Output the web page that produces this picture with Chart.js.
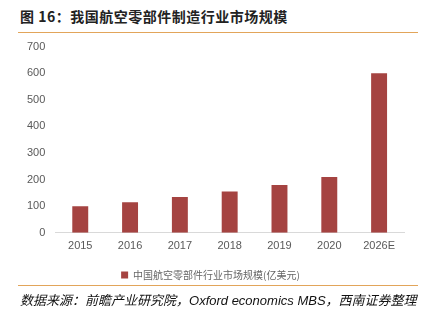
<!DOCTYPE html>
<html>
<head>
<meta charset="utf-8">
<script src="https://cdn.jsdelivr.net/npm/chart.js@4/dist/chart.umd.min.js"></script>
<style>
  html, body { margin: 0; padding: 0; background: #fff; }
  body { width: 426px; height: 324px; position: relative; overflow: hidden; font-family: "Noto Sans CJK SC", "Liberation Sans", sans-serif; }
  #title { position: absolute; left: 20px; top: 6px; font-size: 14px; font-weight: bold; color: #222; letter-spacing: 0.5px; }
  .rule { position: absolute; left: 18px; width: 400px; height: 1px; background: #E2A55A; }
  #wrap { position: absolute; left: 0; top: 30px; width: 426px; height: 260px; }
  #source { position: absolute; left: 20px; top: 290px; font-size: 13px; font-style: italic; color: #111; white-space: nowrap; }
  #source .en { font-family: "Liberation Sans", sans-serif; }
</style>
</head>
<body>
<div id="title">图 16：我国航空零部件制造行业市场规模</div>
<div class="rule" style="top:32px"></div>
<div id="wrap"><canvas id="chart"></canvas></div>
<div class="rule" style="top:285px"></div>
<div id="source">数据来源：前瞻产业研究院，<span class="en">Oxford economics MBS</span>，西南证券整理</div>
<script>
const categories = ['2015', '2016', '2017', '2018', '2019', '2020', '2026E'];
const marketSize = [100, 115, 135, 155, 180, 210, 600];
const yTicks = [0, 100, 200, 300, 400, 500, 600, 700];
const seriesName = '中国航空零部件行业市场规模(亿美元)';

const ctx = document.getElementById('chart').getContext('2d');
new Chart(ctx, {
    type: 'bar',
    data: {
        labels: categories,
        datasets: [{
            label: seriesName,
            data: marketSize,
            backgroundColor: '#A54341',
            borderWidth: 0,
            categoryPercentage: 0.8,
            barPercentage: 0.4
        }]
    },
    options: {
        responsive: true,
        maintainAspectRatio: false,
        animation: false,
        layout: { padding: { top: 0, right: 22, left: 17, bottom: 0 } },
        plugins: {
            tooltip: { enabled: false },
            legend: {
                position: 'bottom',
                labels: {
                    boxWidth: 7,
                    boxHeight: 7,
                    padding: 10,
                    color: '#666',
                    font: { size: 10, family: '"Noto Sans CJK SC", sans-serif' }
                }
            }
        },
        scales: {
            x: {
                grid: { display: false, drawTicks: false },
                border: { color: '#D9D9D9' },
                ticks: { color: '#595959', font: { size: 11, family: '"Liberation Sans", sans-serif' }, padding: 7 }
            },
            y: {
                min: 0,
                max: 700,
                afterBuildTicks: (axis) => { axis.ticks = yTicks.map(v => ({ value: v })); },
                grid: { display: false, drawTicks: false },
                border: { display: false },
                ticks: { color: '#595959', font: { size: 11, family: '"Liberation Sans", sans-serif' }, padding: 10 }
            }
        }
    }
});
</script>
</body>
</html>
